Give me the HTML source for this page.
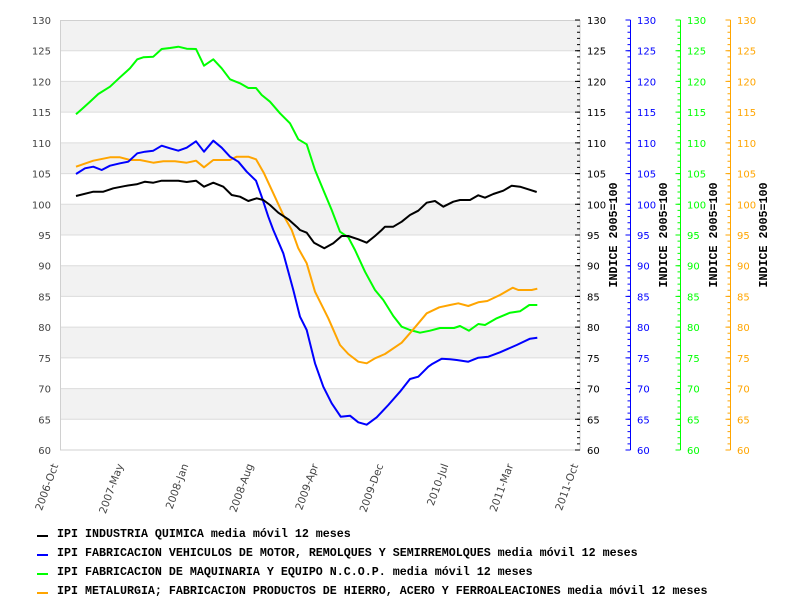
<!DOCTYPE html>
<html><head><meta charset="utf-8"><style>
html,body{margin:0;padding:0;background:#fff;}
svg{display:block;}
.t{font-family:"DejaVu Sans","Liberation Sans",sans-serif;font-size:10px;}
.m{font-family:"Liberation Mono",monospace;font-weight:bold;font-size:11.67px;fill:#000;}
</style></head><body>
<svg width="800" height="600" viewBox="0 0 800 600" xmlns="http://www.w3.org/2000/svg">
<defs>
<g id="tk" fill="none">
<path d="M-3 20h3M-3 26.14h3M-3 32.29h3M-3 38.43h3M-3 44.57h3M-3 50.71h3M-3 56.86h3M-3 63h3M-3 69.14h3M-3 75.29h3M-3 81.43h3M-3 87.57h3M-3 93.71h3M-3 99.86h3M-3 106h3M-3 112.14h3M-3 118.29h3M-3 124.43h3M-3 130.57h3M-3 136.71h3M-3 142.86h3M-3 149h3M-3 155.14h3M-3 161.29h3M-3 167.43h3M-3 173.57h3M-3 179.71h3M-3 185.86h3M-3 192h3M-3 198.14h3M-3 204.29h3M-3 210.43h3M-3 216.57h3M-3 222.71h3M-3 228.86h3M-3 235h3M-3 241.14h3M-3 247.29h3M-3 253.43h3M-3 259.57h3M-3 265.71h3M-3 271.86h3M-3 278h3M-3 284.14h3M-3 290.29h3M-3 296.43h3M-3 302.57h3M-3 308.71h3M-3 314.86h3M-3 321h3M-3 327.14h3M-3 333.29h3M-3 339.43h3M-3 345.57h3M-3 351.71h3M-3 357.86h3M-3 364h3M-3 370.14h3M-3 376.29h3M-3 382.43h3M-3 388.57h3M-3 394.71h3M-3 400.86h3M-3 407h3M-3 413.14h3M-3 419.29h3M-3 425.43h3M-3 431.57h3M-3 437.71h3M-3 443.86h3M-3 450h3"/>
<path d="M-5 20h5M-5 50.71h5M-5 81.43h5M-5 112.14h5M-5 142.86h5M-5 173.57h5M-5 204.29h5M-5 235h5M-5 265.71h5M-5 296.43h5M-5 327.14h5M-5 357.86h5M-5 388.57h5M-5 419.29h5M-5 450h5"/>
</g>
</defs>

<rect x="60" y="20" width="520" height="430" fill="#fff"/>
<g fill="#f2f2f2">
<rect x="60" y="20" width="520" height="30.71"/>
<rect x="60" y="81.43" width="520" height="30.71"/>
<rect x="60" y="142.86" width="520" height="30.71"/>
<rect x="60" y="204.29" width="520" height="30.71"/>
<rect x="60" y="265.71" width="520" height="30.71"/>
<rect x="60" y="327.14" width="520" height="30.71"/>
<rect x="60" y="388.57" width="520" height="30.71"/>
</g>
<g stroke="#dcdcdc" stroke-width="1" fill="none">
<path d="M60 50.71H580M60 81.43H580M60 112.14H580M60 142.86H580M60 173.57H580M60 204.29H580M60 235H580M60 265.71H580M60 296.43H580M60 327.14H580M60 357.86H580M60 388.57H580M60 419.29H580"/>
<rect x="60.5" y="20.5" width="519.5" height="429.5" stroke="#d0d0d0"/>
</g>

<g fill="none" stroke-width="2" stroke-linejoin="round">
<polyline stroke="#00ff00" points="76,114.3 81.7,109.3 90,101.7 98.3,94 110,86.7 120,77.3 130,68.3 137.3,59.3 143.3,57.3 153.3,56.7 161.7,49 170,48 178.3,46.7 186.7,48.7 196,49 204,65.7 213.3,59.3 221.7,68.3 230,79.3 240,83.3 248.3,88 256,88 261.7,95 270,101.7 280,113.3 290,123.3 298.3,139.3 306.7,144.3 315,170 323.3,190 331.7,210 340,231.7 348.3,237.3 355,250 365,271.7 375,290 383.3,300 393.3,316 401.7,326.7 410,330 420,332.7 430,330.7 440,328 454,328 460,326 469,330.7 478.3,324 485,325 496.7,318.3 510,312.7 520,311.3 529.3,305 537.3,305"/>
<polyline stroke="#ffa500" points="76,166.7 93.3,160.7 110,157.3 120,157.3 130,160 140,160 153.3,162.7 163.3,161.3 175,161.3 186.7,162.7 196,160.7 204,167.3 213.3,160 230,160 236.7,156.7 248.3,156.7 256,159.3 264,173.3 273.3,193.3 283.3,215 291.7,230 298.3,248.3 306.7,263.3 315,291.7 328.3,318.3 340,345 348.3,354 358.3,361.7 366.7,363.3 375,358.3 385,354 401.7,342.7 413.3,329.3 421.7,319.3 426.7,313.3 439.3,307.3 450,305 458.3,303.3 468.3,306 478.3,302.3 487.3,301 500,295 512.7,287.7 518.3,290 531.7,290 537.3,288.7"/>
<polyline stroke="#0000ff" points="76,174 85,168.3 93.3,166.7 101.7,170 110,165.7 120,163.3 128.3,161.7 137.3,153.3 145,151.7 153.3,150.7 161.7,145.7 170,148.3 178.3,150.7 186.7,147.7 196,141.3 204,151.7 213.3,140.7 221.7,147.7 230,156.7 238.3,161.7 246.7,171.7 256,180.7 261.7,196.7 268.3,216.7 273.3,230 283.3,253.3 293.3,290 300,316.7 306.7,330 315,363.3 323.3,386.7 331.7,403.3 340.7,416.7 350,415.7 358.3,422.3 366.7,424.7 376.7,417.3 388.3,405 400,391.7 410,379 418.3,376.7 428.3,366.7 431.7,364.3 441.7,358.7 450,359.3 456.7,360 468.3,361.7 478.3,357.7 488.3,356.7 500,352.3 516.7,345 530,338.7 537.3,337.7"/>
<polyline stroke="#000000" points="76,196 93.3,191.7 103.3,191.7 113.3,188.3 126.7,185.7 136.7,184.3 145,181.7 153.3,182.7 161.7,180.7 178.3,180.7 186.7,182 196,180.7 204,186.7 213.3,182.7 223.3,186.7 231.7,195 240,196.7 248.3,201 256.7,198.3 263.3,200 270,205 278.3,212.7 288.3,219.3 296.7,226.7 300,230 306.7,232.7 314,242.7 324.3,248.3 333.3,243.3 341.7,236 348.3,236 358.3,239.3 366.7,242.7 375,236 381.7,230 385,226.7 393.3,226.7 401.7,221.7 410,215 418.3,210.7 426.7,202.7 435,201 443.3,206.7 453.3,201.7 460,200 470,200 478.3,195.3 485,197.7 493.3,194 503.3,190.7 511.7,185.7 520,186.7 528.3,189.3 536.7,192"/>
</g>

<g stroke-width="1">
<use href="#tk" x="580" stroke="#000"/>
<use href="#tk" x="630.5" stroke="#0000ff"/>
<use href="#tk" x="680.5" stroke="#00ff00"/>
<use href="#tk" x="730.5" stroke="#ffa500"/>
<line x1="630.5" y1="20" x2="630.5" y2="450" stroke="#0000ff"/>
<line x1="680.5" y1="20" x2="680.5" y2="450" stroke="#00ff00"/>
<line x1="730.5" y1="20" x2="730.5" y2="450" stroke="#ffa500"/>
</g>

<g class="t" fill="#444" text-anchor="end">
<text x="51" y="24">130</text><text x="51" y="54.7">125</text><text x="51" y="85.4">120</text><text x="51" y="116.1">115</text><text x="51" y="146.9">110</text><text x="51" y="177.6">105</text><text x="51" y="208.3">100</text><text x="51" y="239">95</text><text x="51" y="269.7">90</text><text x="51" y="300.4">85</text><text x="51" y="331.1">80</text><text x="51" y="361.9">75</text><text x="51" y="392.6">70</text><text x="51" y="423.3">65</text><text x="51" y="454">60</text>
</g>
<g class="t" fill="#000">
<text x="587" y="24">130</text><text x="587" y="54.7">125</text><text x="587" y="85.4">120</text><text x="587" y="116.1">115</text><text x="587" y="146.9">110</text><text x="587" y="177.6">105</text><text x="587" y="208.3">100</text><text x="587" y="239">95</text><text x="587" y="269.7">90</text><text x="587" y="300.4">85</text><text x="587" y="331.1">80</text><text x="587" y="361.9">75</text><text x="587" y="392.6">70</text><text x="587" y="423.3">65</text><text x="587" y="454">60</text>
</g>
<g class="t" fill="#0000ff">
<text x="637" y="24">130</text><text x="637" y="54.7">125</text><text x="637" y="85.4">120</text><text x="637" y="116.1">115</text><text x="637" y="146.9">110</text><text x="637" y="177.6">105</text><text x="637" y="208.3">100</text><text x="637" y="239">95</text><text x="637" y="269.7">90</text><text x="637" y="300.4">85</text><text x="637" y="331.1">80</text><text x="637" y="361.9">75</text><text x="637" y="392.6">70</text><text x="637" y="423.3">65</text><text x="637" y="454">60</text>
</g>
<g class="t" fill="#00ff00">
<text x="687" y="24">130</text><text x="687" y="54.7">125</text><text x="687" y="85.4">120</text><text x="687" y="116.1">115</text><text x="687" y="146.9">110</text><text x="687" y="177.6">105</text><text x="687" y="208.3">100</text><text x="687" y="239">95</text><text x="687" y="269.7">90</text><text x="687" y="300.4">85</text><text x="687" y="331.1">80</text><text x="687" y="361.9">75</text><text x="687" y="392.6">70</text><text x="687" y="423.3">65</text><text x="687" y="454">60</text>
</g>
<g class="t" fill="#ffa500">
<text x="737" y="24">130</text><text x="737" y="54.7">125</text><text x="737" y="85.4">120</text><text x="737" y="116.1">115</text><text x="737" y="146.9">110</text><text x="737" y="177.6">105</text><text x="737" y="208.3">100</text><text x="737" y="239">95</text><text x="737" y="269.7">90</text><text x="737" y="300.4">85</text><text x="737" y="331.1">80</text><text x="737" y="361.9">75</text><text x="737" y="392.6">70</text><text x="737" y="423.3">65</text><text x="737" y="454">60</text>
</g>

<g class="m" text-anchor="middle">
<text transform="translate(617,235) rotate(-90)">INDICE 2005=100</text>
<text transform="translate(667,235) rotate(-90)">INDICE 2005=100</text>
<text transform="translate(717,235) rotate(-90)">INDICE 2005=100</text>
<text transform="translate(767,235) rotate(-90)">INDICE 2005=100</text>
</g>

<g class="t" fill="#444" text-anchor="end" style="font-size:10.5px">
<text transform="translate(55,464) rotate(-70)" dy="0.35em">2006-Oct</text>
<text transform="translate(120,464) rotate(-70)" dy="0.35em">2007-May</text>
<text transform="translate(185,464) rotate(-70)" dy="0.35em">2008-Jan</text>
<text transform="translate(250,464) rotate(-70)" dy="0.35em">2008-Aug</text>
<text transform="translate(315,464) rotate(-70)" dy="0.35em">2009-Apr</text>
<text transform="translate(380,464) rotate(-70)" dy="0.35em">2009-Dec</text>
<text transform="translate(445,464) rotate(-70)" dy="0.35em">2010-Jul</text>
<text transform="translate(510,464) rotate(-70)" dy="0.35em">2011-Mar</text>
<text transform="translate(575,464) rotate(-70)" dy="0.35em">2011-Oct</text>
</g>

<g stroke-width="2">
<line x1="37" y1="536" x2="48" y2="536" stroke="#000"/>
<line x1="37" y1="555" x2="48" y2="555" stroke="#0000ff"/>
<line x1="37" y1="574" x2="48" y2="574" stroke="#00ff00"/>
<line x1="37" y1="593" x2="48" y2="593" stroke="#ffa500"/>
</g>
<g class="m">
<text x="57" y="537">IPI INDUSTRIA QUIMICA media móvil 12 meses</text>
<text x="57" y="556">IPI FABRICACION VEHICULOS DE MOTOR, REMOLQUES Y SEMIRREMOLQUES media móvil 12 meses</text>
<text x="57" y="575">IPI FABRICACION DE MAQUINARIA Y EQUIPO N.C.O.P. media móvil 12 meses</text>
<text x="57" y="594">IPI METALURGIA; FABRICACION PRODUCTOS DE HIERRO, ACERO Y FERROALEACIONES media móvil 12 meses</text>
</g>
</svg>
</body></html>
